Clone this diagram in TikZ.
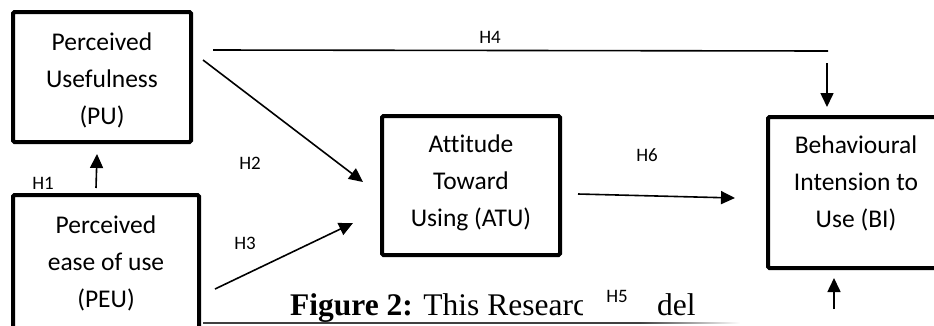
\documentclass[tikz,border=0pt]{standalone}
\usepackage{fontspec}
\setmainfont{Carlito}[Ligatures=NoCommon]
\newfontfamily\capfont{Liberation Serif}
\usetikzlibrary{arrows.meta}
\begin{document}
\begin{tikzpicture}[x=1pt,y=1pt,
  boxnode/.style={draw=black, line width=4pt, rounded corners=1.5pt, inner sep=0pt},
  boxtext/.style={align=center, font=\fontsize{25.5}{37}\selectfont, inner sep=0pt},
  hlabel/.style={font=\fontsize{19}{22}\selectfont, inner sep=0pt},
  captext/.style={anchor=base west, inner sep=0pt, font=\capfont\fontsize{31.5}{36}\selectfont},
  plainline/.style={line width=1.6pt},
  conn/.style={line width=1.6pt, -{Triangle[length=14pt,width=13pt]}},
]
\useasboundingbox (0,0) rectangle (934,-325);
\clip (0,0) rectangle (934,-325);
\fill[white] (0,0) rectangle (934,-325);

% boxes
\node[boxnode, minimum width=178pt, minimum height=130pt] (PU) at (102,-77) {};
\node[boxnode, minimum width=186pt, minimum height=136pt] (PEU) at (106,-263) {};
\node[boxnode, minimum width=178pt, minimum height=139pt] (ATU) at (471,-185.5) {};
\node[boxnode, minimum width=182pt, minimum height=151pt] (BI) at (859,-192.5) {};

% box texts
\node[boxtext] (PUt) at (102,-80) {Perceived\\Usefulness\\(PU)};
\node[boxtext] (PEUt) at (106,-263) {Perceived\\ease of use\\(PEU)};
\node[boxtext] (ATUt) at (471,-183) {Attitude\\Toward\\Using (ATU)};
\node[boxtext] (BIt) at (856,-183) {Behavioural\\Intension to\\Use (BI)};

% caption (partly hidden behind the H5 label) and its rule
\draw[line width=1.5pt, black!75] (203,-323) -- (640,-323);
\shade[left color=black!75, right color=white] (640,-322.25) rectangle (740,-323.75);
\begin{scope}
  \clip (200,-270) rectangle (582,-321);
  \node[captext] (cap) at (290,-315) {\textbf{Figure 2:} This Researc};
\end{scope}
\node[captext] (cap2) at (657,-315) {del};

% connector end points
\coordinate (h1a) at (96,-188);  \coordinate (h1b) at (97,-154);
\coordinate (h2a) at (203,-60);  \coordinate (h2b) at (363,-182);
\coordinate (h3a) at (215,-289); \coordinate (h3b) at (353,-223);
\coordinate (h4a) at (213,-50);  \coordinate (h4b) at (828,-51);
\coordinate (h4c) at (827,-63);  \coordinate (h4d) at (827,-107);
\coordinate (h6a) at (578,-194); \coordinate (h6b) at (735,-198);
\coordinate (h5a) at (834,-309); \coordinate (h5b) at (834,-278);

% connectors
\draw[conn] (h1a) -- (h1b);
\draw[conn] (h2a) -- (h2b);
\draw[conn] (h3a) -- (h3b);
\draw[plainline] (h4a) -- (h4b);
\draw[conn] (h4c) -- (h4d);
\draw[conn] (h6a) -- (h6b);
\draw[conn] (h5a) -- (h5b);

% hypothesis labels
\node[hlabel] (H1) at (43,-183) {H1};
\node[hlabel] (H2) at (250,-163) {H2};
\node[hlabel] (H3) at (245,-243) {H3};
\node[hlabel] (H4) at (490,-37) {H4};
\node[hlabel] (H6) at (647,-155) {H6};
\node[hlabel] (H5) at (617,-296) {H5};
\end{tikzpicture}
\end{document}
